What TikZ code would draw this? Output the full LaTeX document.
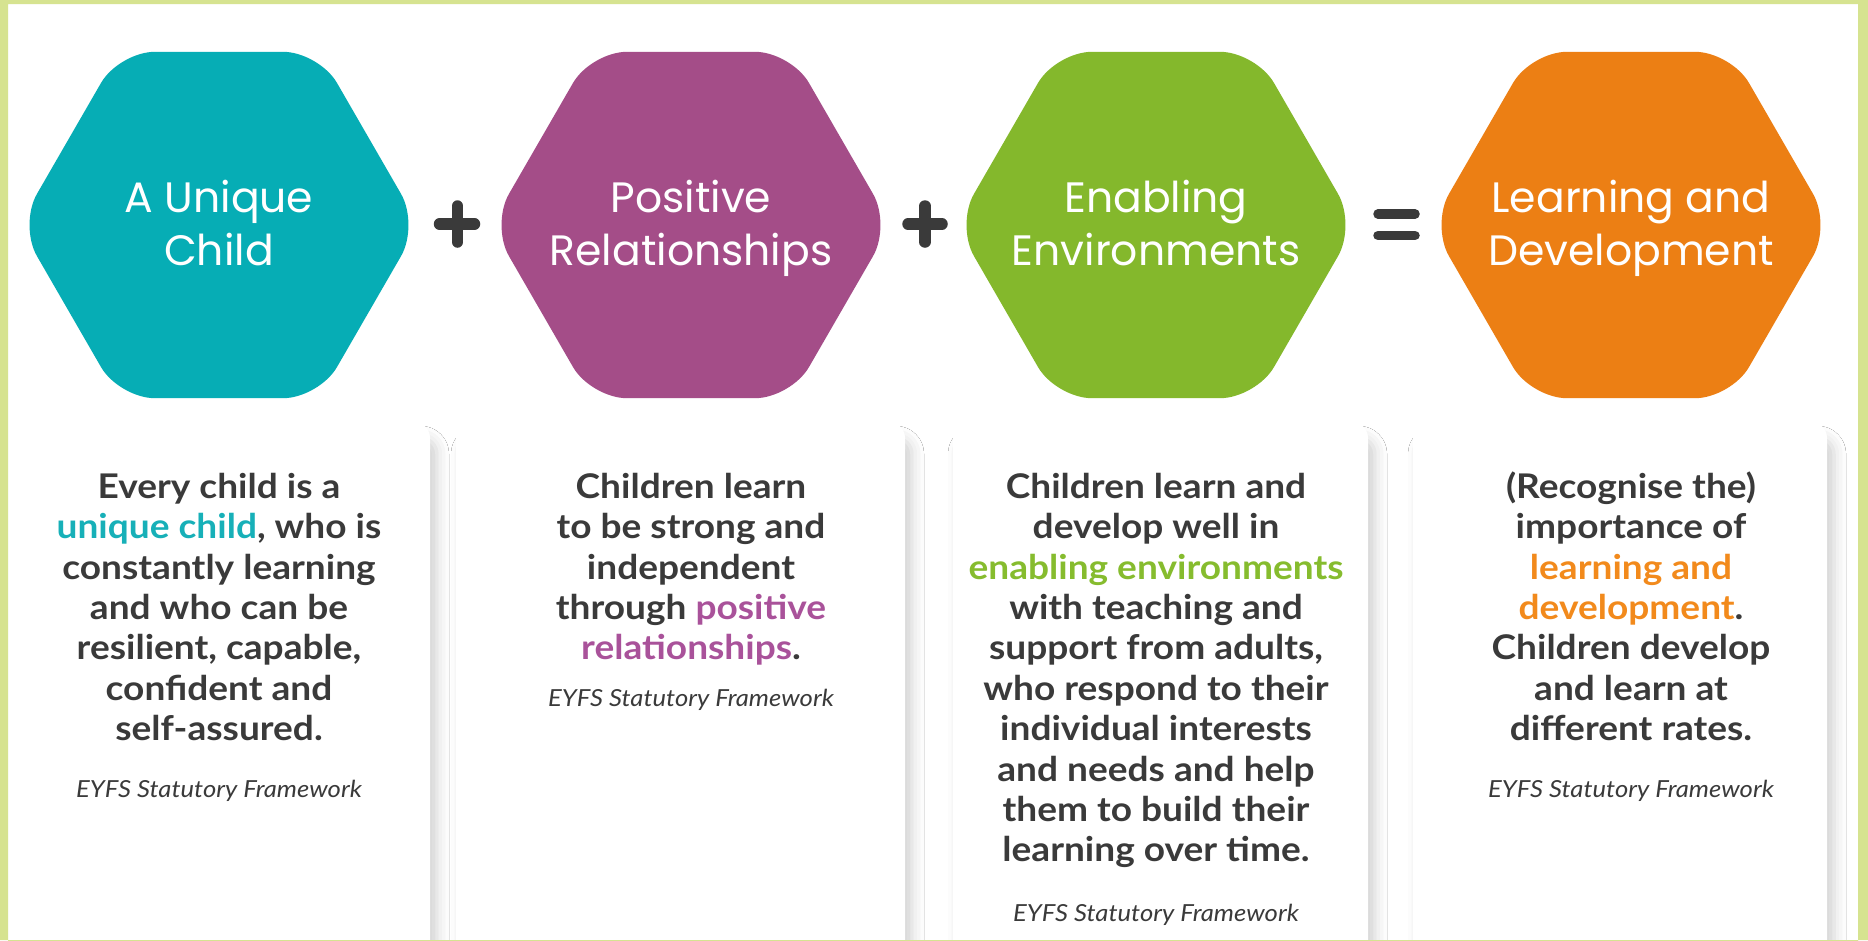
\documentclass[tikz,border=0pt]{standalone}
\usepackage{fontspec}
\setmainfont{Lato}[FakeStretch=1.09]
\newfontfamily\titlefont{Poppins}
\usetikzlibrary{shapes.geometric,shadows.blur}
\definecolor{cTeal}{HTML}{06ADB5}
\definecolor{cPurple}{HTML}{A44D88}
\definecolor{cGreen}{HTML}{84B82C}
\definecolor{cOrange}{HTML}{EC7F14}
\definecolor{tTeal}{HTML}{17B0B8}
\definecolor{tPurple}{HTML}{A9529A}
\definecolor{tGreen}{HTML}{86BC2E}
\definecolor{tOrange}{HTML}{F28A1C}
\definecolor{cDark}{HTML}{3A3A3A}
\definecolor{cFrame}{HTML}{D6E390}
\tikzset{
  hexa/.style={regular polygon, regular polygon sides=6, minimum size=400pt,
    inner sep=0pt, rounded corners=36pt, fill=#1, draw=none},
  hextitle/.style={anchor=north, inner sep=0pt, align=center, text=white,
    font=\titlefont\fontsize{42.5}{53}\selectfont},
  card/.style={fill=white, rounded corners=16pt,
    blur shadow={shadow xshift=7pt, shadow yshift=-16pt, shadow blur radius=12pt, shadow opacity=18}},
  bodytext/.style={anchor=north, inner sep=0pt, align=center, text=cDark,
    font=\bfseries\fontsize{34}{40.4}\selectfont},
  capt/.style={anchor=base, inner sep=0pt, text=cDark,
    font=\itshape\fontsize{23.5}{28}\selectfont},
  opline/.style={line width=11.5pt, color=cDark, line cap=round}
}
\newcommand{\fs}{\rule{0pt}{30pt}}
\newcommand{\ts}{\rule{0pt}{36pt}}
\begin{document}
\begin{tikzpicture}[x=1pt,y=-1pt]
\useasboundingbox (0,0) rectangle (1868,940);
\fill[white] (0,0) rectangle (1868,940);
% cards
\path[card] (-30,422) rectangle (430,990);
\path[card] (456,422) rectangle (905,990);
\path[card] (953,422) rectangle (1368,990);
\path[card] (1413,422) rectangle (1827,990);
% hexagons
\node[hexa=cTeal] (h1) at (219,225) {};
\node[hexa=cPurple] (h2) at (691,225) {};
\node[hexa=cGreen] (h3) at (1156,225) {};
\node[hexa=cOrange] (h4) at (1631,225) {};
\node[hextitle] (t1) at (219,176) {\ts A Unique\\Child};
\node[hextitle] (t2) at (691,176) {\ts Positive\\Relationships};
\node[hextitle] (t3) at (1156,176) {\ts Enabling\\Environments};
\node[hextitle] (t4) at (1631,176) {\ts Learning and\\Development};
% operators
\draw[opline] (439.5,224) -- (474.5,224) (457.5,206) -- (457.5,242);
\draw[opline] (908,224) -- (942,224) (925,206) -- (925,242);
\draw[line width=9.5pt, color=cDark, line cap=round] (1378,214) -- (1415,214) (1378,235.5) -- (1415,235.5);
% body texts
\node[bodytext] (b1) at (219,468) {\fs Every child is a\\\textcolor{tTeal}{unique child}, who is\\constantly learning\\and who can be\\resilient, capable,\\confident and\\self-assured.};
\node[bodytext] (b2) at (691,468) {\fs Children learn\\to be strong and\\independent\\through \textcolor{tPurple}{positive}\\\textcolor{tPurple}{relationships}.};
\node[bodytext] (b3) at (1156,468) {\fs Children learn and\\develop well in\\\textcolor{tGreen}{enabling environments}\\with teaching and\\support from adults,\\who respond to their\\individual interests\\and needs and help\\them to build their\\learning over time.};
\node[bodytext] (b4) at (1631,468) {\fs (Recognise the)\\importance of\\\textcolor{tOrange}{learning and}\\\textcolor{tOrange}{development}.\\Children develop\\and learn at\\different rates.};
% captions
\node[capt] (c1) at (219,797) {EYFS Statutory Framework};
\node[capt] (c2) at (691,706) {EYFS Statutory Framework};
\node[capt] (c3) at (1156,921) {EYFS Statutory Framework};
\node[capt] (c4) at (1631,797) {EYFS Statutory Framework};
% frame
\fill[cFrame, even odd rule] (0,0) rectangle (1868,940) (8,4) rectangle (1858,960);
\end{tikzpicture}
\end{document}
